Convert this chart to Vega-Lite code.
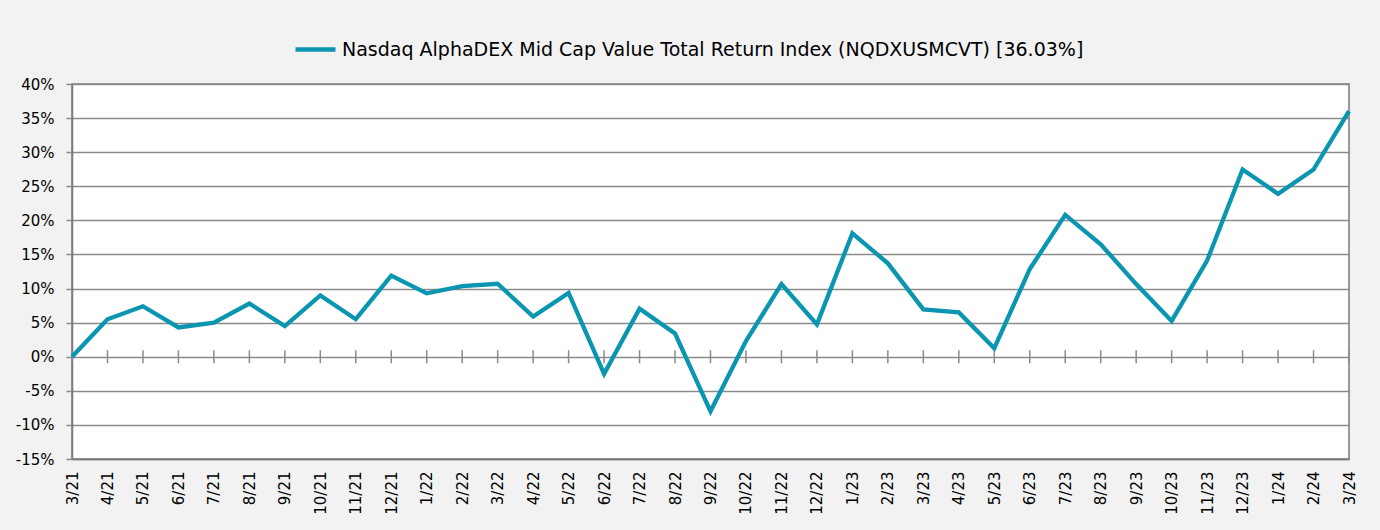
{
  "$schema": "https://vega.github.io/schema/vega-lite/v6.json",
  "width": 1277,
  "height": 375,
  "autosize": {"type": "none"},
  "padding": {"left": 72, "top": 84, "right": 31, "bottom": 71},
  "background": "#f2f2f2",
  "config": {
    "view": {"fill": "#ffffff", "stroke": "#7a7a7a", "strokeWidth": 1.5},
    "font": "DejaVu Sans"
  },
  "data": {
    "values": [
      {"date": "2021-03-15", "v": 0},
      {"date": "2021-04-15", "v": 5.5},
      {"date": "2021-05-15", "v": 7.4},
      {"date": "2021-06-15", "v": 4.3},
      {"date": "2021-07-15", "v": 5.0},
      {"date": "2021-08-15", "v": 7.8},
      {"date": "2021-09-15", "v": 4.5},
      {"date": "2021-10-15", "v": 9.0},
      {"date": "2021-11-15", "v": 5.5},
      {"date": "2021-12-15", "v": 11.9},
      {"date": "2022-01-15", "v": 9.3},
      {"date": "2022-02-15", "v": 10.35},
      {"date": "2022-03-15", "v": 10.7},
      {"date": "2022-04-15", "v": 5.9},
      {"date": "2022-05-15", "v": 9.35},
      {"date": "2022-06-15", "v": -2.5},
      {"date": "2022-07-15", "v": 7.05},
      {"date": "2022-08-15", "v": 3.4},
      {"date": "2022-09-15", "v": -8.0},
      {"date": "2022-10-15", "v": 2.3},
      {"date": "2022-11-15", "v": 10.65},
      {"date": "2022-12-15", "v": 4.75},
      {"date": "2023-01-15", "v": 18.1},
      {"date": "2023-02-15", "v": 13.7},
      {"date": "2023-03-15", "v": 6.95},
      {"date": "2023-04-15", "v": 6.5},
      {"date": "2023-05-15", "v": 1.25},
      {"date": "2023-06-15", "v": 12.85},
      {"date": "2023-07-15", "v": 20.8},
      {"date": "2023-08-15", "v": 16.5},
      {"date": "2023-09-15", "v": 10.65},
      {"date": "2023-10-15", "v": 5.25},
      {"date": "2023-11-15", "v": 14.1},
      {"date": "2023-12-15", "v": 27.45},
      {"date": "2024-01-15", "v": 23.9},
      {"date": "2024-02-15", "v": 27.45},
      {"date": "2024-03-15", "v": 36.03}
    ]
  },
  "encoding": {
    "x": {
      "field": "date",
      "timeUnit": "yearmonth",
      "type": "ordinal",
      "scale": {"type": "point", "padding": 0},
      "axis": {
        "title": null,
        "format": "%-m/%y",
        "labelAngle": -90,
        "labelFontSize": 15,
        "labelColor": "#000000",
        "labelPadding": 12,
        "ticks": false,
        "domainColor": "#7a7a7a",
        "domainWidth": 1.5,
        "grid": false
      }
    },
    "y": {
      "field": "v",
      "type": "quantitative",
      "scale": {"domain": [-15, 40], "nice": false, "zero": false},
      "axis": {
        "title": null,
        "values": [-15, -10, -5, 0, 5, 10, 15, 20, 25, 30, 35, 40],
        "labelExpr": "datum.value + '%'",
        "labelFontSize": 15,
        "labelColor": "#000000",
        "labelPadding": 12,
        "tickSize": 6,
        "tickColor": "#8a8a8a",
        "tickWidth": 1.5,
        "domainColor": "#7a7a7a",
        "domainWidth": 1.5,
        "gridColor": "#8a8a8a",
        "gridWidth": 1.5
      }
    }
  },
  "layer": [
    {
      "mark": {"type": "tick", "orient": "vertical", "size": 13, "thickness": 1.5, "color": "#8a8a8a", "opacity": 1},
      "encoding": {"y": {"datum": 0}}
    },
    {
      "mark": {"type": "line", "strokeWidth": 4.3, "strokeJoin": "miter"},
      "encoding": {
        "color": {
          "datum": "Nasdaq AlphaDEX Mid Cap Value Total Return Index (NQDXUSMCVT) [36.03%]",
          "scale": {"range": ["#0a95b0"]},
          "legend": {
            "title": null,
            "orient": "none",
            "legendX": 221,
            "legendY": -57,
            "symbolType": "stroke",
            "symbolStrokeWidth": 4.5,
            "symbolSize": 1600,
            "labelFontSize": 19,
            "labelColor": "#000000",
            "labelLimit": 1000,
            "labelOffset": 4
          }
        }
      }
    }
  ]
}
